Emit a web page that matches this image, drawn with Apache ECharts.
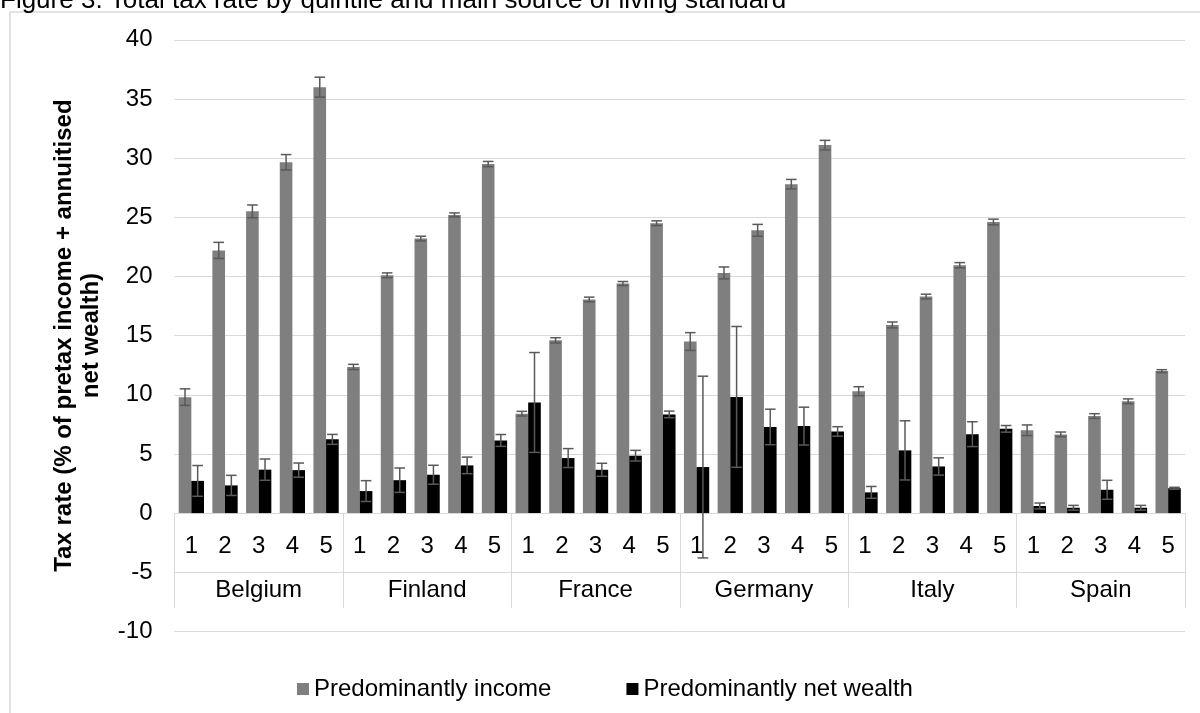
<!DOCTYPE html>
<html>
<head>
<meta charset="utf-8">
<title>Total tax rate by quintile</title>
<script src="https://cdn.jsdelivr.net/npm/echarts@6/dist/echarts.min.js"></script>
<style>
  html, body { margin: 0; padding: 0; background: #ffffff; }
  #chart { width: 1200px; height: 713px; }
</style>
</head>
<body>
<div id="chart"></div>
<script>
// Countries and income quintiles on the category axis
const countries = ['Belgium', 'Finland', 'France', 'Germany', 'Italy', 'Spain'];
const quintiles = ['1', '2', '3', '4', '5'];

// Tax rate (% of pretax income + annuitised net wealth), quintiles 1-5 per country
const incomeRate = [
  9.8, 22.2, 25.5, 29.65, 36.0,    // Belgium
  12.35, 20.1, 23.2, 25.2, 29.5,   // Finland
  8.4, 14.6, 18.05, 19.4, 24.5,    // France
  14.5, 20.3, 23.9, 27.8, 31.1,    // Germany
  10.3, 15.9, 18.3, 20.95, 24.6,   // Italy
  7.0, 6.65, 8.2, 9.45, 12.0       // Spain
];
const incomeError = [
  0.7, 0.68, 0.54, 0.65, 0.84,
  0.22, 0.2, 0.2, 0.17, 0.22,
  0.2, 0.22, 0.2, 0.17, 0.2,
  0.75, 0.5, 0.5, 0.4, 0.4,
  0.38, 0.25, 0.2, 0.22, 0.24,
  0.45, 0.2, 0.2, 0.2, 0.12
];
const wealthRate = [
  2.72, 2.34, 3.67, 3.63, 6.23,
  1.86, 2.78, 3.24, 4.03, 6.14,
  9.35, 4.65, 3.66, 4.85, 8.34,
  3.89, 9.82, 7.28, 7.35, 6.9,
  1.75, 5.3, 3.94, 6.67, 7.12,
  0.6, 0.45, 1.97, 0.45, 2.1
];
const wealthError = [
  1.3, 0.85, 0.9, 0.6, 0.42,
  0.88, 1.03, 0.8, 0.7, 0.5,
  4.22, 0.8, 0.55, 0.45, 0.28,
  7.68, 5.95, 1.5, 1.6, 0.4,
  0.5, 2.5, 0.73, 1.05, 0.28,
  0.25, 0.2, 0.8, 0.2, 0.08
];

// Value axis range
const yMin = -10, yMax = 40, yStep = 5;

const FONT = '"Liberation Sans", Arial, Helvetica, sans-serif';
const GRID_LINE = '#d9d9d9';
const CATEGORY_GAP = 0.25;

// Plot area
const CHART_H = 713;
const GRID = { left: 174.5, right: 15, top: 39.8, bottom: 81.6 };
const plotHeight = CHART_H - GRID.top - GRID.bottom;
// Shift the category axes from the bottom of the plot up to the zero line
const zeroOffset = -plotHeight * (0 - yMin) / (yMax - yMin);

// One category per country/quintile pair
const categories = [];
countries.forEach(c => quintiles.forEach(q => categories.push(c + ' ' + q)));

// Error bars sit on the centre of their bar: side -1 = first bar, +1 = second bar
function errorBars(id, rate, err, side) {
  return {
    type: 'custom',
    id: id,
    xAxisIndex: 0,
    yAxisIndex: 0,
    z: 5,
    silent: true,
    data: rate.map((v, i) => [i, v, err[i]]),
    encode: { x: 0, y: 1 },
    renderItem: function (params, api) {
      const i = api.value(0), v = api.value(1), e = api.value(2);
      const hi = api.coord([i, v + e]);
      const lo = api.coord([i, v - e]);
      const band = api.size([1, 0])[0];
      const barW = band * (1 - CATEGORY_GAP) / 2;
      const cx = hi[0] + side * barW / 2;
      const half = barW * 0.42;
      const style = { stroke: '#595959', lineWidth: 1.5, fill: null };
      return {
        type: 'group',
        children: [
          { type: 'line', shape: { x1: cx, y1: hi[1], x2: cx, y2: lo[1] }, style: style },
          { type: 'line', shape: { x1: cx - half, y1: hi[1], x2: cx + half, y2: hi[1] }, style: style },
          { type: 'line', shape: { x1: cx - half, y1: lo[1], x2: cx + half, y2: lo[1] }, style: style }
        ]
      };
    }
  };
}

const chart = echarts.init(document.getElementById('chart'), null, { renderer: 'canvas' });

chart.setOption({
  animation: false,
  backgroundColor: '#ffffff',
  textStyle: { fontFamily: FONT },
  graphic: [
    {
      type: 'rect',
      silent: true,
      shape: { x: 10, y: 12, width: 1300, height: 900 },
      style: { fill: null, stroke: GRID_LINE, lineWidth: 1.5 }
    },
    {
      type: 'text',
      silent: true,
      x: 0,
      y: 1,
      style: {
        text: 'Figure 3. Total tax rate by quintile and main source of living standard',
        font: '26px ' + FONT,
        fill: '#000000',
        textAlign: 'left',
        textVerticalAlign: 'middle'
      }
    }
  ],
  grid: GRID,
  legend: {
    data: ['Predominantly income', 'Predominantly net wealth'],
    left: 292,
    top: 672,
    icon: 'rect',
    itemWidth: 12,
    itemHeight: 12,
    itemGap: 75,
    textStyle: { fontSize: 24, color: '#000000', fontFamily: FONT }
  },
  xAxis: [
    {
      type: 'category',
      data: categories,
      position: 'bottom',
      offset: zeroOffset,
      axisLine: { show: true, onZero: false, lineStyle: { color: GRID_LINE, width: 1 } },
      axisTick: { show: false },
      splitLine: { show: false },
      axisLabel: {
        interval: 0,
        margin: 21,
        fontSize: 24,
        color: '#000000',
        fontFamily: FONT,
        formatter: (value, index) => quintiles[index % quintiles.length]
      }
    },
    {
      type: 'category',
      data: countries,
      position: 'bottom',
      offset: zeroOffset,
      axisLine: { show: false, onZero: false },
      axisTick: { show: true, interval: 0, length: 95, lineStyle: { color: GRID_LINE, width: 1 } },
      splitLine: { show: false },
      axisLabel: { interval: 0, margin: 65, fontSize: 24, color: '#000000', fontFamily: FONT }
    }
  ],
  yAxis: {
    type: 'value',
    min: yMin,
    max: yMax,
    interval: yStep,
    name: 'Tax rate (% of pretax income + annuitised\nnet wealth)',
    nameLocation: 'middle',
    nameRotate: 90,
    nameGap: 70,
    nameTextStyle: { fontSize: 24, fontWeight: 'bold', color: '#000000', lineHeight: 27, align: 'center', fontFamily: FONT },
    axisLine: { show: false },
    axisTick: { show: false },
    splitLine: { show: true, lineStyle: { color: GRID_LINE, width: 1 } },
    axisLabel: { fontSize: 24, color: '#000000', margin: 22, fontFamily: FONT }
  },
  series: [
    {
      type: 'bar',
      name: 'Predominantly income',
      xAxisIndex: 0,
      yAxisIndex: 0,
      data: incomeRate,
      barGap: '0%',
      barCategoryGap: (CATEGORY_GAP * 100) + '%',
      itemStyle: { color: '#7f7f7f' }
    },
    {
      type: 'bar',
      name: 'Predominantly net wealth',
      xAxisIndex: 0,
      yAxisIndex: 0,
      data: wealthRate,
      barGap: '0%',
      barCategoryGap: (CATEGORY_GAP * 100) + '%',
      itemStyle: { color: '#000000' }
    },
    errorBars('income-error', incomeRate, incomeError, -1),
    errorBars('wealth-error', wealthRate, wealthError, 1)
  ]
});
</script>
</body>
</html>
